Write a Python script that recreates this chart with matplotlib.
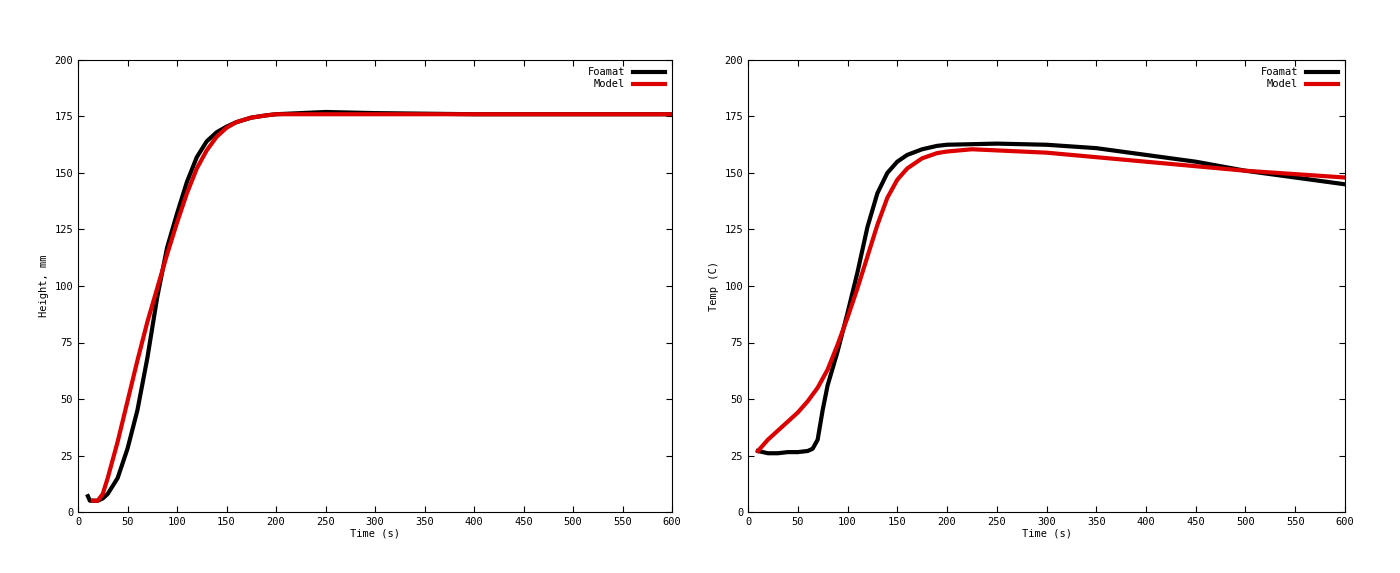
import matplotlib
matplotlib.use("Agg")
import matplotlib.pyplot as plt

h_foam_t = [10, 12, 15, 20, 25, 30, 40, 50, 60, 70, 80, 90, 100, 110, 120, 130, 140, 150, 160, 175, 190, 200, 250, 300, 400, 500, 600]
h_foam = [7, 5, 5, 5, 6, 8, 15, 28, 45, 68, 95, 117, 132, 146, 157, 164, 168, 170.5, 172.5, 174.5, 175.5, 176, 177, 176.5, 176, 176, 176]
h_mod_t = [15, 20, 25, 30, 40, 50, 60, 70, 80, 90, 100, 110, 120, 130, 140, 150, 160, 175, 190, 200, 250, 600]
h_mod = [5, 5, 8, 15, 31, 49, 67, 84, 99, 114, 128, 141, 152, 160, 166, 170, 172.5, 174.5, 175.5, 176, 176, 176]

t_foam_t = [10, 20, 30, 40, 50, 60, 65, 70, 75, 80, 90, 100, 110, 120, 130, 140, 150, 160, 175, 190, 200, 250, 300, 350, 400, 450, 500, 550, 600]
t_foam = [27, 26, 26, 26.5, 26.5, 27, 28, 32, 45, 56, 71, 88, 106, 126, 141, 150, 155, 158, 160.5, 162, 162.5, 163, 162.5, 161, 158, 155, 151, 148, 145]
t_mod_t = [10, 20, 30, 40, 50, 60, 70, 80, 90, 100, 110, 120, 130, 140, 150, 160, 175, 190, 200, 225, 250, 300, 350, 400, 450, 500, 550, 600]
t_mod = [27, 32, 36, 40, 44, 49, 55, 63, 74, 86, 99, 113, 127, 139, 147, 152, 156.5, 158.8, 159.5, 160.5, 160, 159, 157, 155, 153, 151, 149.5, 148]

font = "DejaVu Sans Mono"
fig = plt.figure(figsize=(14, 5.73), dpi=100)
axes = [fig.add_axes([78/1400, 1-512/573, 594/1400, 452/573]),
        fig.add_axes([748/1400, 1-512/573, 597/1400, 452/573])]
data = [(h_foam_t, h_foam, h_mod_t, h_mod, "Height, mm"),
        (t_foam_t, t_foam, t_mod_t, t_mod, "Temp (C)")]
for ax, (ft, fv, mt, mv, yl) in zip(axes, data):
    ax.plot(ft, fv, color="black", lw=3, label="Foamat", solid_joinstyle="round")
    ax.plot(mt, mv, color="#dd0000", lw=3, label="Model", solid_joinstyle="round")
    ax.set_xlim(0, 600); ax.set_ylim(0, 200)
    ax.set_xticks(range(0, 601, 50)); ax.set_yticks(range(0, 201, 25))
    ax.tick_params(direction="in", top=True, right=True, labelsize=7.5, length=4)
    for lab in ax.get_xticklabels() + ax.get_yticklabels():
        lab.set_fontfamily(font)
    ax.set_xlabel("Time (s)", fontsize=7.5, fontfamily=font, labelpad=1)
    ax.set_ylabel(yl, fontsize=7.5, fontfamily=font)
    ax.legend(loc="upper right", frameon=False, prop={"family": font, "size": 7.5},
              markerfirst=False, handlelength=3, borderaxespad=0.3, labelspacing=0.2)
fig.savefig("out.png", dpi=100)
